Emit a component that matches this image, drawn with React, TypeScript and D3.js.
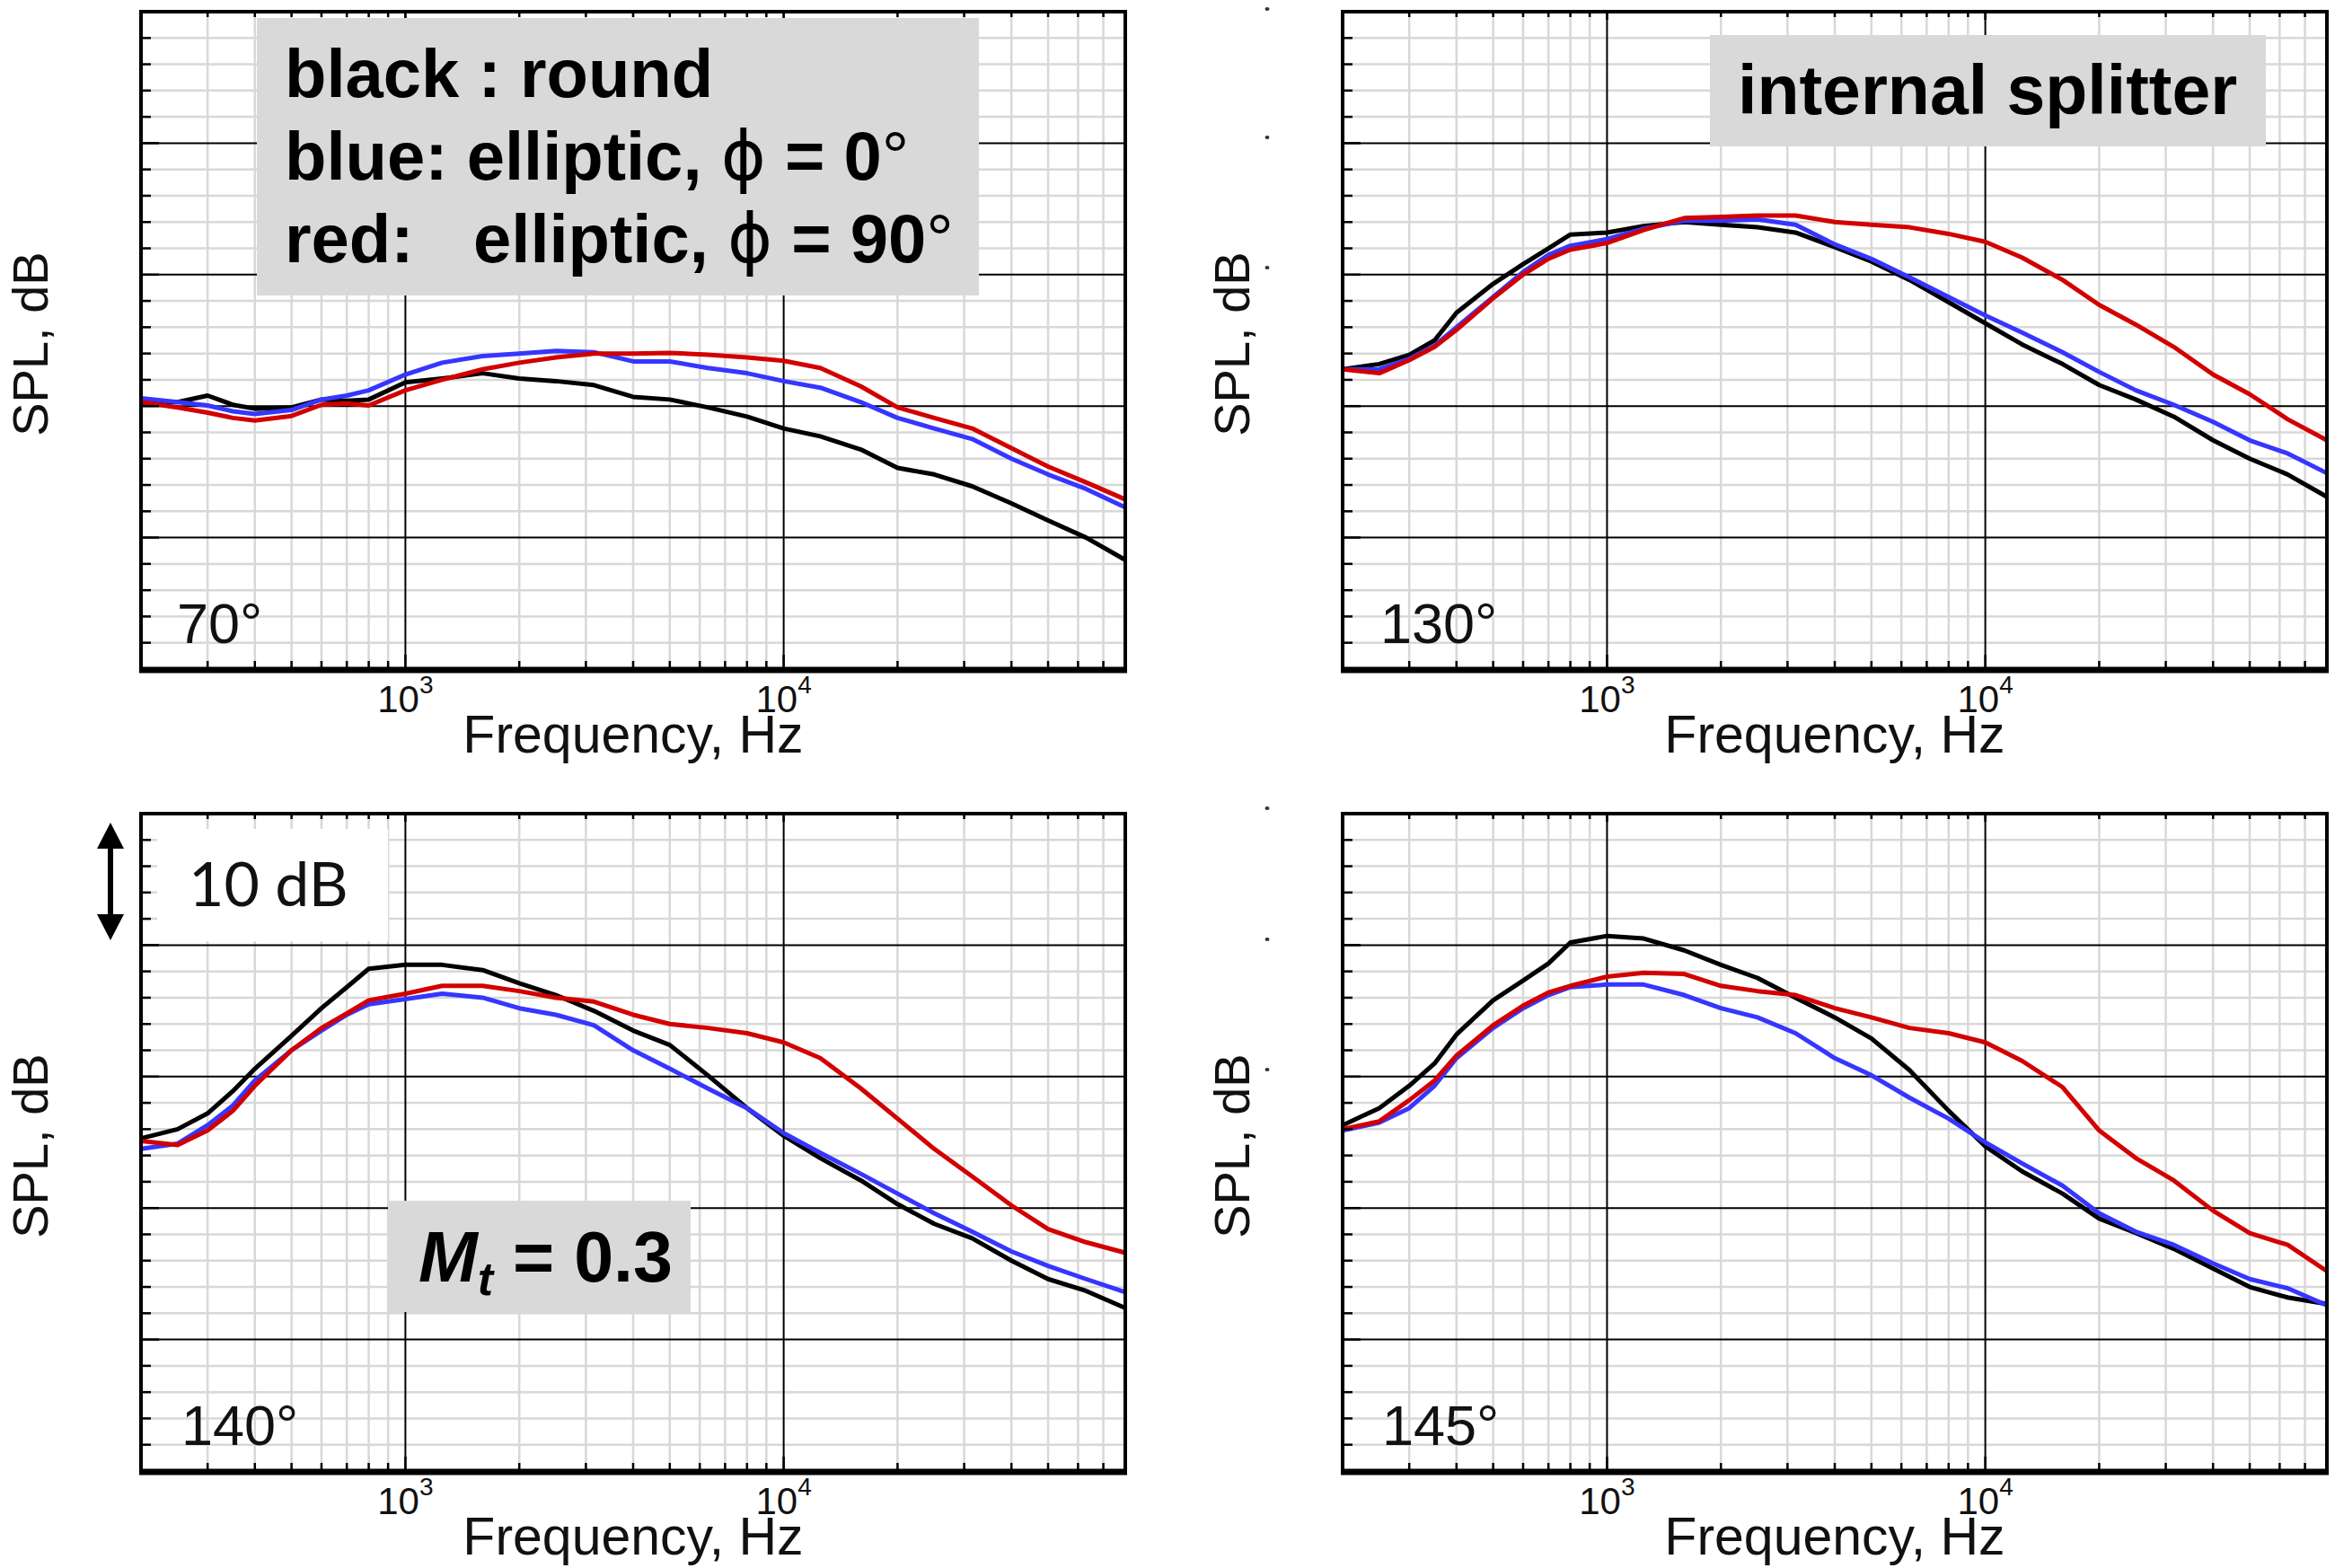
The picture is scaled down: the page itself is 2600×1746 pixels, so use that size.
import React from 'react';
import * as d3 from 'd3';

// ---------- data (relative SPL in dB, 10 dB per major grid line) ----------
const FREQ = [200, 250, 300, 350, 400, 500, 600, 700, 800, 1000, 1250, 1600, 2000, 2500, 3150, 4000, 5000, 6300, 8000, 10000, 12500, 16000, 20000, 25000, 31500, 40000, 50000, 63000, 80000];

const A70_BLACK = [20.2, 20.3, 20.8, 20.1, 19.8, 19.9, 20.5, 20.4, 20.5, 21.8, 22.1, 22.5, 22.1, 21.9, 21.6, 20.7, 20.5, 19.9, 19.2, 18.3, 17.7, 16.7, 15.3, 14.8, 13.9, 12.6, 11.3, 10.0, 8.3];
const A70_BLUE = [20.6, 20.3, 20.05, 19.6, 19.4, 19.7, 20.5, 20.8, 21.2, 22.4, 23.3, 23.8, 24.0, 24.2, 24.1, 23.4, 23.4, 22.9, 22.5, 21.9, 21.4, 20.3, 19.1, 18.3, 17.5, 16.0, 14.8, 13.7, 12.3];
const A70_RED = [20.3, 19.9, 19.5, 19.1, 18.9, 19.25, 20.1, 20.2, 20.05, 21.2, 22.0, 22.8, 23.3, 23.7, 24.0, 24.0, 24.05, 23.9, 23.7, 23.45, 22.9, 21.5, 19.9, 19.1, 18.3, 16.8, 15.4, 14.2, 12.9];

const A130_BLACK = [22.8, 23.2, 23.9, 25.0, 27.1, 29.3, 30.8, 32.0, 33.05, 33.2, 33.7, 34.0, 33.8, 33.6, 33.2, 32.1, 31.0, 29.6, 27.9, 26.3, 24.7, 23.2, 21.6, 20.5, 19.2, 17.4, 16.0, 14.8, 13.1];
const A130_BLUE = [22.8, 22.8, 23.6, 24.6, 26.0, 28.3, 30.2, 31.5, 32.2, 32.7, 33.5, 34.1, 34.1, 34.2, 33.8, 32.3, 31.2, 29.8, 28.3, 26.9, 25.6, 24.1, 22.6, 21.2, 20.1, 18.8, 17.4, 16.4, 14.9];
const A130_RED = [22.8, 22.5, 23.5, 24.5, 25.8, 28.2, 30.0, 31.2, 31.9, 32.4, 33.4, 34.3, 34.4, 34.5, 34.5, 34.0, 33.8, 33.6, 33.1, 32.5, 31.3, 29.6, 27.7, 26.2, 24.5, 22.4, 20.9, 19.0, 17.4];

const A140_BLACK = [25.3, 26.0, 27.2, 28.9, 30.6, 33.1, 35.2, 36.8, 38.2, 38.5, 38.5, 38.1, 37.1, 36.2, 35.0, 33.5, 32.4, 30.1, 27.6, 25.5, 23.8, 22.1, 20.3, 18.8, 17.7, 16.0, 14.6, 13.7, 12.4];
const A140_BLUE = [24.5, 24.9, 26.3, 27.8, 29.7, 32.0, 33.5, 34.7, 35.5, 35.9, 36.3, 36.0, 35.2, 34.7, 33.9, 32.0, 30.6, 29.1, 27.6, 25.7, 24.2, 22.6, 21.1, 19.6, 18.2, 16.7, 15.6, 14.6, 13.6];
const A140_RED = [25.1, 24.8, 25.9, 27.4, 29.3, 32.0, 33.7, 34.8, 35.8, 36.3, 36.9, 36.9, 36.5, 36.0, 35.7, 34.7, 34.0, 33.7, 33.3, 32.6, 31.4, 29.1, 26.8, 24.5, 22.4, 20.2, 18.4, 17.4, 16.6];

const A145_BLACK = [26.3, 27.6, 29.3, 31.0, 33.2, 35.8, 37.3, 38.6, 40.2, 40.7, 40.5, 39.6, 38.5, 37.5, 36.0, 34.5, 32.9, 30.5, 27.4, 24.7, 22.8, 21.1, 19.2, 18.1, 16.9, 15.4, 14.0, 13.2, 12.7];
const A145_BLUE = [25.9, 26.5, 27.6, 29.3, 31.4, 33.7, 35.2, 36.2, 36.8, 37.0, 37.0, 36.2, 35.2, 34.5, 33.3, 31.4, 30.1, 28.4, 26.8, 25.0, 23.4, 21.7, 19.6, 18.2, 17.2, 15.8, 14.6, 13.9, 12.6];
const A145_RED = [26.0, 26.6, 28.2, 29.7, 31.6, 33.9, 35.4, 36.4, 36.9, 37.6, 37.9, 37.8, 36.9, 36.5, 36.2, 35.2, 34.5, 33.7, 33.3, 32.6, 31.2, 29.2, 25.9, 23.8, 22.1, 19.8, 18.1, 17.2, 15.2];

const X_DOMAIN = [200, 80000];
const Y_DOMAIN = [0, 50];
const MAJOR_FREQ = [1000, 10000];
const MAJOR_EXP = ['3', '4'];
const ANGLES = ['70°', '130°', '140°', '145°'];

// ---------- layout ----------
const W = 2600;
const H = 1746;
const PW = 1096;
const PH = 732;
const FONT = 'Liberation Sans, Arial, Helvetica, sans-serif';
const C_BLACK = '#000000';
const C_BLUE = '#3636ff';
const C_RED = '#d20000';
const GRID = '#d8d8d8';
const BOX = '#d9d9d9';

const PANELS = [
  { x0: 157, y0: 13, angle: ANGLES[0], black: A70_BLACK, blue: A70_BLUE, red: A70_RED, ax: 40 },
  { x0: 1495, y0: 13, angle: ANGLES[1], black: A130_BLACK, blue: A130_BLUE, red: A130_RED, ax: 42 },
  { x0: 157, y0: 906, angle: ANGLES[2], black: A140_BLACK, blue: A140_BLUE, red: A140_RED, ax: 45 },
  { x0: 1495, y0: 906, angle: ANGLES[3], black: A145_BLACK, blue: A145_BLUE, red: A145_RED, ax: 44 },
];

const x = d3.scaleLog().domain(X_DOMAIN).range([0, PW]);
const y = d3.scaleLinear().domain(Y_DOMAIN).range([PH, 0]);
const line = d3
  .line<number>()
  .x((_, i) => x(FREQ[i]))
  .y((d) => y(d))
  .curve(d3.curveLinear);

const minorFreqs = x.ticks().filter((f) => f > 200 && f < 80000 && !MAJOR_FREQ.includes(f));
const allFreqTicks = x.ticks().filter((f) => f >= 200 && f <= 80000);
const dbMinor = d3.range(2, 50, 2).filter((v) => v % 10 !== 0);
const dbMajor = d3.range(10, 50, 10);
const dbTicks = d3.range(0, 51, 2);

function Panel({ p }: { p: (typeof PANELS)[number] }) {
  return (
    <g transform={`translate(${p.x0},${p.y0})`}>
      <rect x={0} y={0} width={PW} height={PH} fill="#fff" />
      {/* minor grid */}
      {minorFreqs.map((f) => (
        <line key={'vf' + f} x1={x(f)} x2={x(f)} y1={0} y2={PH} stroke={GRID} strokeWidth={2.5} />
      ))}
      {dbMinor.map((v) => (
        <line key={'hm' + v} x1={0} x2={PW} y1={y(v)} y2={y(v)} stroke={GRID} strokeWidth={2.5} />
      ))}
      {/* major grid */}
      {MAJOR_FREQ.map((f) => (
        <line key={'vM' + f} x1={x(f)} x2={x(f)} y1={0} y2={PH} stroke="#000" strokeWidth={2} />
      ))}
      {dbMajor.map((v) => (
        <line key={'hM' + v} x1={0} x2={PW} y1={y(v)} y2={y(v)} stroke="#000" strokeWidth={2} />
      ))}
      {/* curves */}
      <g fill="none" strokeWidth={5} strokeLinejoin="round">
        <path d={line(p.black) || ''} stroke={C_BLACK} />
        <path d={line(p.blue) || ''} stroke={C_BLUE} />
        <path d={line(p.red) || ''} stroke={C_RED} />
      </g>
      {/* ticks */}
      {dbTicks.map((v) => (
        <line key={'lt' + v} x1={0} x2={v % 10 === 0 ? 20 : 11} y1={y(v)} y2={y(v)} stroke="#000" strokeWidth={2.5} />
      ))}
      {allFreqTicks.map((f) => (
        <g key={'bt' + f}>
          <line x1={x(f)} x2={x(f)} y1={PH} y2={PH - (MAJOR_FREQ.includes(f) ? 16 : 9)} stroke="#000" strokeWidth={2.5} />
          <line x1={x(f)} x2={x(f)} y1={0} y2={MAJOR_FREQ.includes(f) ? 9 : 6} stroke="#000" strokeWidth={2.5} />
        </g>
      ))}
      {/* frame */}
      <rect x={0} y={0} width={PW} height={PH} fill="none" stroke="#000" strokeWidth={4} />
      <line x1={-2} x2={PW + 2} y1={PH + 1} y2={PH + 1} stroke="#000" strokeWidth={7} />
      {/* tick labels */}
      {MAJOR_FREQ.map((f, i) => (
        <text key={'tl' + f} x={x(f)} y={PH + 48} textAnchor="middle" fontFamily={FONT} fontSize={42} fill="#111">
          10
          <tspan dy={-21} fontSize={28}>
            {MAJOR_EXP[i]}
          </tspan>
        </text>
      ))}
      <text x={PW / 2} y={PH + 93} textAnchor="middle" fontFamily={FONT} fontSize={59} fill="#111">
        Frequency, Hz
      </text>
      <text
        transform={`translate(-104,${PH / 2 + 4}) rotate(-90)`}
        textAnchor="middle"
        fontFamily={FONT}
        fontSize={56}
        fill="#111"
      >
        SPL, dB
      </text>
      <text x={p.ax} y={PH - 29} fontFamily={FONT} fontSize={63} fill="#111">
        {p.angle}
      </text>
    </g>
  );
}

const STRAY_Y = [10, 153, 298, 900, 1046, 1191];

export default function App() {
  return (
    <svg
      width={W}
      height={H}
      viewBox={`0 0 ${W} ${H}`}
      style={{ position: 'absolute', left: 0, top: 0, background: '#fff' }}
    >
      <rect x={0} y={0} width={W} height={H} fill="#fff" />
      {PANELS.map((p, i) => (
        <Panel key={i} p={p} />
      ))}

      {/* legend box (top-left panel) */}
      <rect x={286} y={20} width={804} height={309} fill={BOX} />
      <g fontFamily={FONT} fontWeight="bold" fontSize={76} fill="#000">
        <text x={317} y={108}>black : round</text>
        <text x={317} y={200}>
          blue: elliptic,{' '}
          <tspan fontFamily="DejaVu Sans" fontWeight="normal">ϕ</tspan> = 0
          <tspan fontWeight="normal">°</tspan>
        </text>
        <text x={317} y={292}>red:</text>
        <text x={527} y={292}>
          elliptic, <tspan fontFamily="DejaVu Sans" fontWeight="normal">ϕ</tspan> = 90
          <tspan fontWeight="normal">°</tspan>
        </text>
      </g>

      {/* internal splitter box (top-right panel) */}
      <rect x={1904} y={39} width={619} height={124} fill={BOX} />
      <text x={1935} y={127} fontFamily={FONT} fontWeight="bold" fontSize={77} fill="#000">
        internal splitter
      </text>

      {/* 10 dB scale (bottom-left panel) */}
      <rect x={175} y={923} width={257} height={125} fill="#fff" />
      <g fill="#000">
        <rect x={120} y={940} width={6} height={84} />
        <path d="M123,916 L108,945 L138,945 Z" />
        <path d="M123,1047 L108,1018 L138,1018 Z" />
      </g>
      <text x={210} y={1009} fontFamily="Lato, 'Open Sans', sans-serif" fontSize={68} fill="#111">
        10 dB
      </text>

      {/* Mt box (bottom-left panel) */}
      <rect x={432} y={1337} width={337} height={124} fill={BOX} />
      <text x={466} y={1427} fontFamily={FONT} fontWeight="bold" fontSize={79} fill="#000">
        <tspan fontStyle="italic">M</tspan>
        <tspan fontStyle="italic" fontSize={52} dy={15}>t</tspan>
        <tspan dy={-15}> = 0.3</tspan>
      </text>

      {/* small stray marks left of right panels */}
      {STRAY_Y.map((sy) => (
        <ellipse key={sy} cx={1411} cy={sy} rx={2.5} ry={2} fill="#333" />
      ))}
    </svg>
  );
}
